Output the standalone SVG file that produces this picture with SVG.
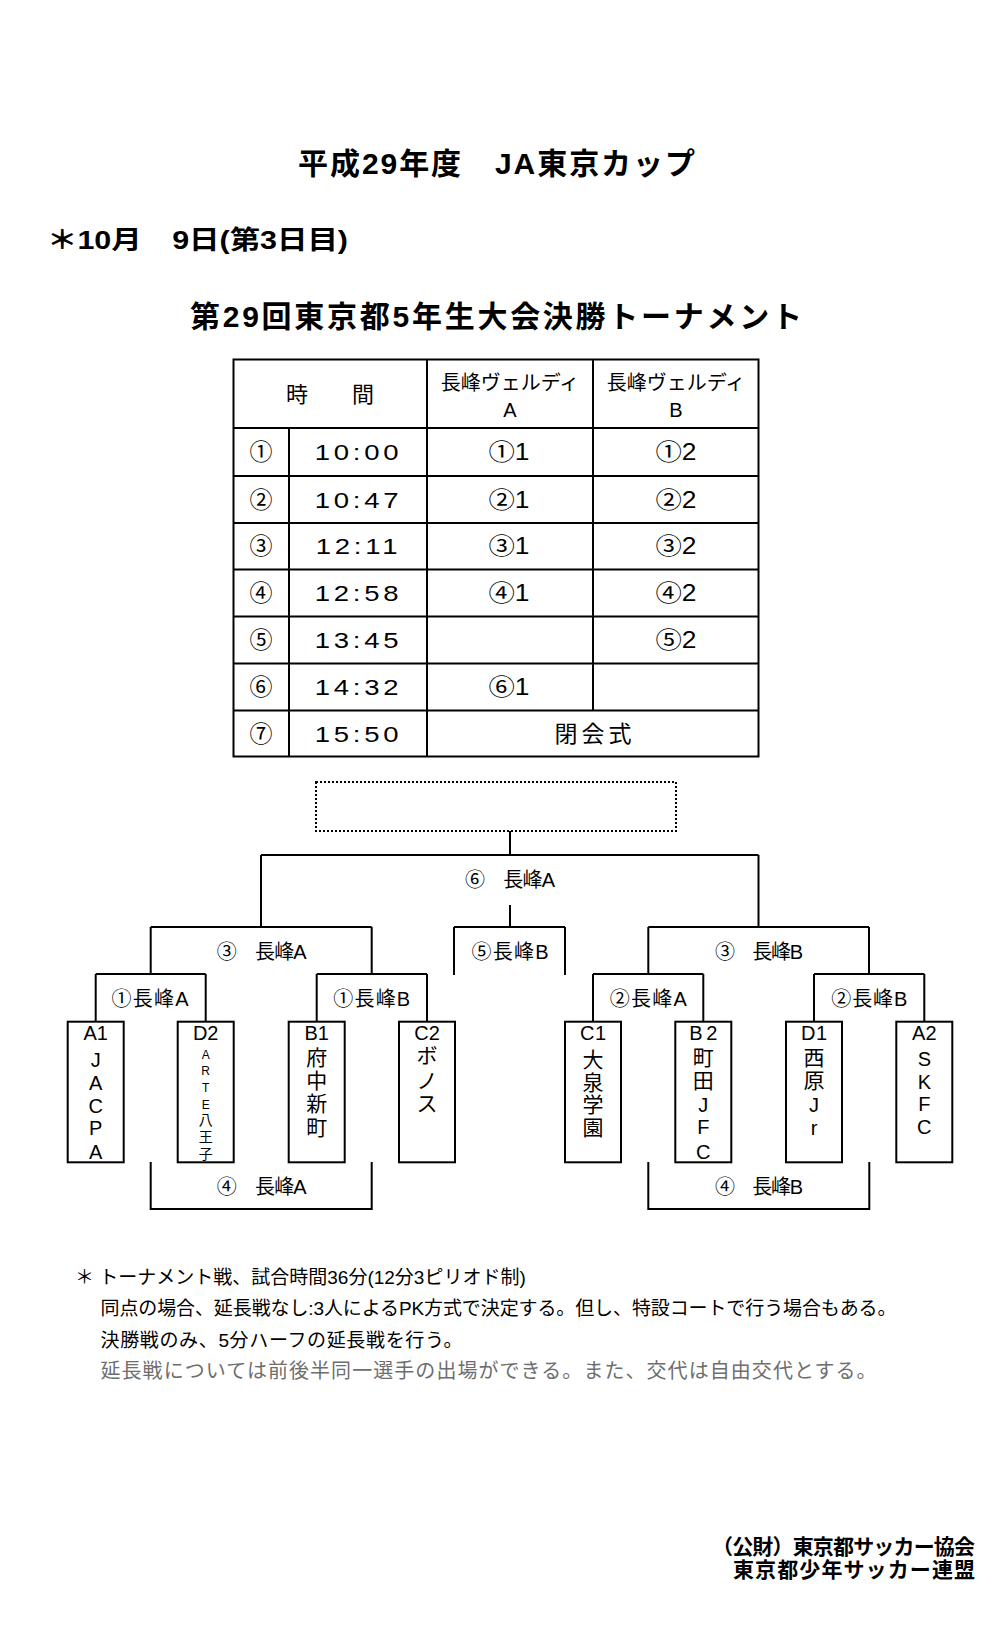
<svg xmlns="http://www.w3.org/2000/svg" width="992" height="1652" viewBox="0 0 992 1652">
<style>
text{font-family:"Liberation Sans","Noto Sans CJK JP",sans-serif;fill:#000}
.t{font-size:30px;font-weight:bold}
.d{font-size:26px;font-weight:bold}
.hd{font-size:22px;text-anchor:middle}
.hc{font-size:20px;text-anchor:middle}
.c{font-size:23px;text-anchor:middle}
.tt{font-size:22px;text-anchor:middle;letter-spacing:3px}
.lb{font-size:20px;text-anchor:middle}
.tm{font-size:20px;text-anchor:middle}
.tk{font-size:21px;text-anchor:middle}
.sm{font-size:12px;text-anchor:middle}
.sk{font-size:14px;text-anchor:middle}
.n{font-size:19px}
.g{font-size:20px;fill:#6e6e6e}
.f{font-size:21px;text-anchor:end;font-weight:bold}
.ln{stroke:#000;stroke-width:2;fill:none}
.bx{stroke:#000;stroke-width:2;fill:#fff}
</style>

<g id="titles">
<text class="t" x="298" y="174" textLength="397">平成29年度　JA東京カップ</text>
<text class="d" x="47" y="249" textLength="301" lengthAdjust="spacingAndGlyphs">＊10月　9日(第3日目)</text>
<text class="t" x="190" y="327" textLength="612">第29回東京都5年生大会決勝トーナメント</text>
</g>

<g id="schedule-table">
<rect x="233.5" y="359.5" width="525" height="397" class="ln"/>
<path class="ln" d="M233.5 428H758.5M233.5 476H758.5M233.5 523H758.5M233.5 569.5H758.5M233.5 616.5H758.5M233.5 663.5H758.5M233.5 710.5H758.5M289 428V756.5M427 359.5V756.5M593 359.5V710.5"/>
<text class="hd" x="330" y="402">時　　間</text>
<text class="hc" x="510" y="390">長峰ヴェルディ</text>
<text class="hc" x="510" y="417">A</text>
<text class="hc" x="676" y="390">長峰ヴェルディ</text>
<text class="hc" x="676" y="417">B</text>
<g class="c">
<text x="261" y="460">①</text><text x="509" y="460" textLength="41" lengthAdjust="spacingAndGlyphs">①1</text><text x="676" y="460" textLength="41" lengthAdjust="spacingAndGlyphs">①2</text>
<text x="261" y="507.5">②</text><text x="509" y="507.5" textLength="41" lengthAdjust="spacingAndGlyphs">②1</text><text x="676" y="507.5" textLength="41" lengthAdjust="spacingAndGlyphs">②2</text>
<text x="261" y="554">③</text><text x="509" y="554" textLength="41" lengthAdjust="spacingAndGlyphs">③1</text><text x="676" y="554" textLength="41" lengthAdjust="spacingAndGlyphs">③2</text>
<text x="261" y="601">④</text><text x="509" y="601" textLength="41" lengthAdjust="spacingAndGlyphs">④1</text><text x="676" y="601" textLength="41" lengthAdjust="spacingAndGlyphs">④2</text>
<text x="261" y="648">⑤</text><text x="676" y="648" textLength="41" lengthAdjust="spacingAndGlyphs">⑤2</text>
<text x="261" y="695">⑥</text><text x="509" y="695" textLength="41" lengthAdjust="spacingAndGlyphs">⑥1</text>
<text x="261" y="741.5">⑦</text><text x="593" y="741.5" textLength="77">閉会式</text>
</g>
<g class="tt">
<text transform="translate(358.5 460) scale(1.25 1)">10:00</text>
<text transform="translate(358.5 507.5) scale(1.25 1)">10:47</text>
<text transform="translate(358.5 554) scale(1.25 1)">12:11</text>
<text transform="translate(358.5 601) scale(1.25 1)">12:58</text>
<text transform="translate(358.5 648) scale(1.25 1)">13:45</text>
<text transform="translate(358.5 695) scale(1.25 1)">14:32</text>
<text transform="translate(358.5 741.5) scale(1.25 1)">15:50</text>
</g>
</g>

<g id="connectors">
<path class="ln" d="M510 831V855M261 855H758.5M261 855V927M758.5 855V927M510 905V927M454 927H565M454 927V975M565 927V975"/>
<path class="ln" d="M150.7 927H371.7M150.7 927V974M371.7 927V974M95.7 974H205.7M95.7 974V1021.7M205.7 974V1021.7M316.7 974H427M316.7 974V1021.7M427 974V1021.7"/>
<path class="ln" d="M648.3 927H869M648.3 927V974M869 927V974M593 974H703.3M593 974V1021.7M703.3 974V1021.7M814 974H924.3M814 974V1021.7M924.3 974V1021.7"/>
<path class="ln" d="M150.7 1162V1209H371.7V1162M648.3 1162V1209H869.3V1162"/>
</g>

<g id="final">
<rect x="316" y="782" width="360" height="49" fill="none" stroke="#000" stroke-width="2" stroke-dasharray="2 2"/>
</g>

<g id="match-labels" class="lb">
<text x="510" y="887" textLength="90">⑥　長峰A</text>
<text x="261.7" y="959" textLength="90">③　長峰A</text>
<text x="510" y="958.7" textLength="77">⑤長峰B</text>
<text x="759" y="959" textLength="88">③　長峰B</text>
<text x="150" y="1006" textLength="77">①長峰A</text>
<text x="371.7" y="1006" textLength="77">①長峰B</text>
<text x="648.3" y="1006" textLength="77">②長峰A</text>
<text x="869.3" y="1006" textLength="76">②長峰B</text>
<text x="261.7" y="1193.7" textLength="90">④　長峰A</text>
<text x="759" y="1193.7" textLength="88">④　長峰B</text>
</g>

<g id="team-A1">
<rect class="bx" x="67.7" y="1021.7" width="56" height="140.6"/>
<text class="tm" x="95.7" y="1040">A1</text>
<text class="tm" x="95.7" y="1067">J</text>
<text class="tm" x="95.7" y="1090">A</text>
<text class="tm" x="95.7" y="1113">C</text>
<text class="tm" x="95.7" y="1135">P</text>
<text class="tm" x="95.7" y="1158.7">A</text>
</g>
<g id="team-D2">
<rect class="bx" x="177.7" y="1021.7" width="56" height="140.6"/>
<text class="tm" x="205.7" y="1040">D2</text>
<text class="sm" x="205.7" y="1058.6">A</text>
<text class="sm" x="205.7" y="1075.3">R</text>
<text class="sm" x="205.7" y="1092">T</text>
<text class="sm" x="205.7" y="1108.6">E</text>
<text class="sk" x="205.7" y="1125.3">八</text>
<text class="sk" x="205.7" y="1142">王</text>
<text class="sk" x="205.7" y="1158.6">子</text>
</g>
<g id="team-B1">
<rect class="bx" x="288.7" y="1021.7" width="56" height="140.6"/>
<text class="tm" x="316.7" y="1040">B1</text>
<text class="tk" x="316.7" y="1064.7">府</text>
<text class="tk" x="316.7" y="1088">中</text>
<text class="tk" x="316.7" y="1111.3">新</text>
<text class="tk" x="316.7" y="1134.7">町</text>
</g>
<g id="team-C2">
<rect class="bx" x="399" y="1021.7" width="56" height="140.6"/>
<text class="tm" x="427" y="1040">C2</text>
<text class="tk" x="427" y="1063">ボ</text>
<text class="tk" x="427" y="1088">ノ</text>
<text class="tk" x="427" y="1111.3">ス</text>
</g>
<g id="team-C1">
<rect class="bx" x="565" y="1021.7" width="56" height="140.6"/>
<text class="tm" x="593" y="1040" textLength="26">C1</text>
<text class="tk" x="593" y="1067.3">大</text>
<text class="tk" x="593" y="1089.7">泉</text>
<text class="tk" x="593" y="1112">学</text>
<text class="tk" x="593" y="1134.7">園</text>
</g>
<g id="team-B2">
<rect class="bx" x="675.3" y="1021.7" width="56" height="140.6"/>
<text class="tm" x="703.3" y="1040" textLength="28">B2</text>
<text class="tk" x="703.3" y="1064.7">町</text>
<text class="tk" x="703.3" y="1088">田</text>
<text class="tm" x="703.3" y="1112">J</text>
<text class="tm" x="703.3" y="1133.7">F</text>
<text class="tm" x="703.3" y="1158.7">C</text>
</g>
<g id="team-D1">
<rect class="bx" x="786" y="1021.7" width="56" height="140.6"/>
<text class="tm" x="814" y="1040" textLength="26">D1</text>
<text class="tk" x="814" y="1064.7">西</text>
<text class="tk" x="814" y="1088">原</text>
<text class="tm" x="814" y="1112">J</text>
<text class="tm" x="814" y="1135.3">r</text>
</g>
<g id="team-A2">
<rect class="bx" x="896.3" y="1021.7" width="56" height="140.6"/>
<text class="tm" x="924.3" y="1040">A2</text>
<text class="tm" x="924.3" y="1066.3">S</text>
<text class="tm" x="924.3" y="1088.7">K</text>
<text class="tm" x="924.3" y="1111">F</text>
<text class="tm" x="924.3" y="1133.7">C</text>
</g>

<g id="notes">
<text class="n" x="75" y="1284">＊ トーナメント戦、試合時間36分(12分3ピリオド制)</text>
<text class="n" x="100.5" y="1315" textLength="796">同点の場合、延長戦なし:3人によるPK方式で決定する。但し、特設コートで行う場合もある。</text>
<text class="n" x="100.5" y="1347" textLength="362">決勝戦のみ、5分ハーフの延長戦を行う。</text>
<text class="g" x="100.5" y="1378" textLength="776">延長戦については前後半同一選手の出場ができる。また、交代は自由交代とする。</text>
</g>

<g id="footer">
<text class="f" x="975" y="1554" textLength="263">（公財）東京都サッカー協会</text>
<text class="f" x="975" y="1577" textLength="242">東京都少年サッカー連盟</text>
</g>
</svg>
